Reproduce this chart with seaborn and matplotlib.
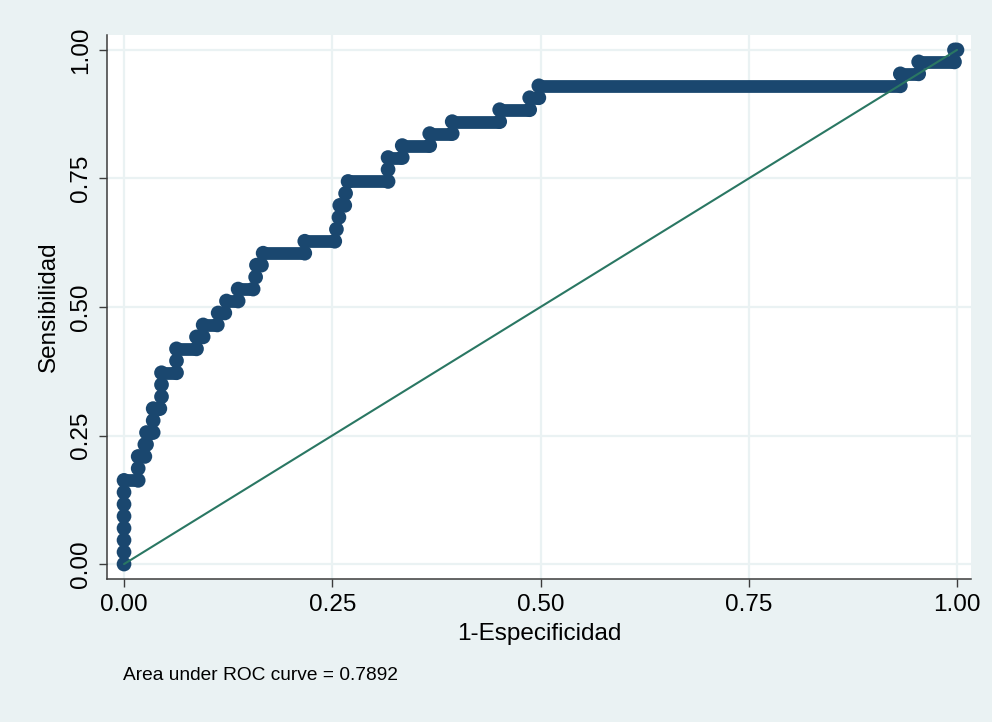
import numpy as np
import pandas as pd
import matplotlib
matplotlib.use("Agg")
import matplotlib.pyplot as plt
import seaborn as sns

# ROC curve: for each count of detected positives (out of 43), the range of
# 1-specificity values over which the classifier stays at that sensitivity.
n_positive = 43
true_pos = list(range(0, 44))
fpr_start = [0.000, 0.000, 0.000, 0.000, 0.000, 0.000, 0.000, 0.000, 0.017, 0.017,
             0.025, 0.027, 0.035, 0.035, 0.045, 0.045, 0.045, 0.063, 0.063, 0.087,
             0.095, 0.113, 0.123, 0.137, 0.158, 0.159, 0.167, 0.217, 0.255, 0.258,
             0.259, 0.266, 0.269, 0.317, 0.317, 0.334, 0.367, 0.394, 0.451, 0.487,
             0.498, 0.932, 0.954, 0.997]
fpr_end = [0.000, 0.000, 0.000, 0.000, 0.000, 0.000, 0.000, 0.017, 0.017, 0.025,
           0.027, 0.035, 0.035, 0.043, 0.045, 0.045, 0.063, 0.063, 0.087, 0.095,
           0.112, 0.121, 0.137, 0.155, 0.158, 0.165, 0.217, 0.253, 0.255, 0.258,
           0.265, 0.266, 0.317, 0.317, 0.334, 0.367, 0.394, 0.451, 0.487, 0.498,
           0.932, 0.954, 0.997, 1.000]

x_ticks = [0.0, 0.25, 0.5, 0.75, 1.0]
y_ticks = [0.0, 0.25, 0.5, 0.75, 1.0]
tick_labels = ["0.00", "0.25", "0.50", "0.75", "1.00"]
auc_text = "Area under ROC curve = 0.7892"

sens = np.array(true_pos) / n_positive
runs = pd.DataFrame({"sens": sens, "x0": fpr_start, "x1": fpr_end})
points = pd.concat([
    pd.DataFrame({"fpr": fpr_start, "sens": sens}),
    pd.DataFrame({"fpr": fpr_end, "sens": sens}),
]).drop_duplicates()
diag = pd.DataFrame({"fpr": [0.0, 1.0], "sens": [0.0, 1.0]})

sns.set_theme(style="white")
plt.rcParams["font.family"] = ["Liberation Sans", "DejaVu Sans"]

bg = "#EAF2F3"
navy = "#1A476F"
line_green = "#2A7763"
axis_col = "#3C3C3C"

fig = plt.figure(figsize=(9.92, 7.22), dpi=100, facecolor=bg)
ax = fig.add_axes([0.1079, 0.1981, 0.8709, 0.7534])
ax.set_facecolor("white")

# grid
for t in x_ticks:
    ax.axvline(t, color=bg, lw=1.6, zorder=0)
for t in y_ticks:
    ax.axhline(t, color=bg, lw=1.6, zorder=0)

# horizontal stretches of the ROC staircase
ax.hlines(runs["sens"], runs["x0"], runs["x1"], color=navy, lw=9.2, zorder=2)
sns.scatterplot(data=points, x="fpr", y="sens", ax=ax, s=112, color=navy,
                edgecolor="none", linewidth=0, zorder=3, legend=False)

# chance line
sns.lineplot(data=diag, x="fpr", y="sens", ax=ax, color=line_green, lw=1.5,
             zorder=4, legend=False)

ax.set_xlim(-0.0204, 1.0168)
ax.set_ylim(-0.029, 1.029)
ax.set_xticks(x_ticks)
ax.set_xticklabels(tick_labels)
ax.set_yticks(y_ticks)
ax.set_yticklabels(tick_labels, rotation=90, va="center")
ax.tick_params(axis="both", which="major", direction="out", length=6, width=1.0,
               color=axis_col, labelsize=17.5, labelcolor="black", pad=5,
               bottom=True, left=True)
ax.tick_params(axis="y", pad=5)

for side in ["top", "right"]:
    ax.spines[side].set_visible(False)
for side in ["left", "bottom"]:
    ax.spines[side].set_color(axis_col)
    ax.spines[side].set_linewidth(1.1)

ax.set_xlabel("1-Especificidad", fontsize=17.5, color="black", labelpad=5)
ax.set_ylabel("Sensibilidad", fontsize=17.5, color="black", labelpad=7)

fig.text(123 / 992, 1 - 676 / 722, auc_text, fontsize=13.8, color="black",
         ha="left", va="center")

fig.savefig("out.png", dpi=100, facecolor=bg)
